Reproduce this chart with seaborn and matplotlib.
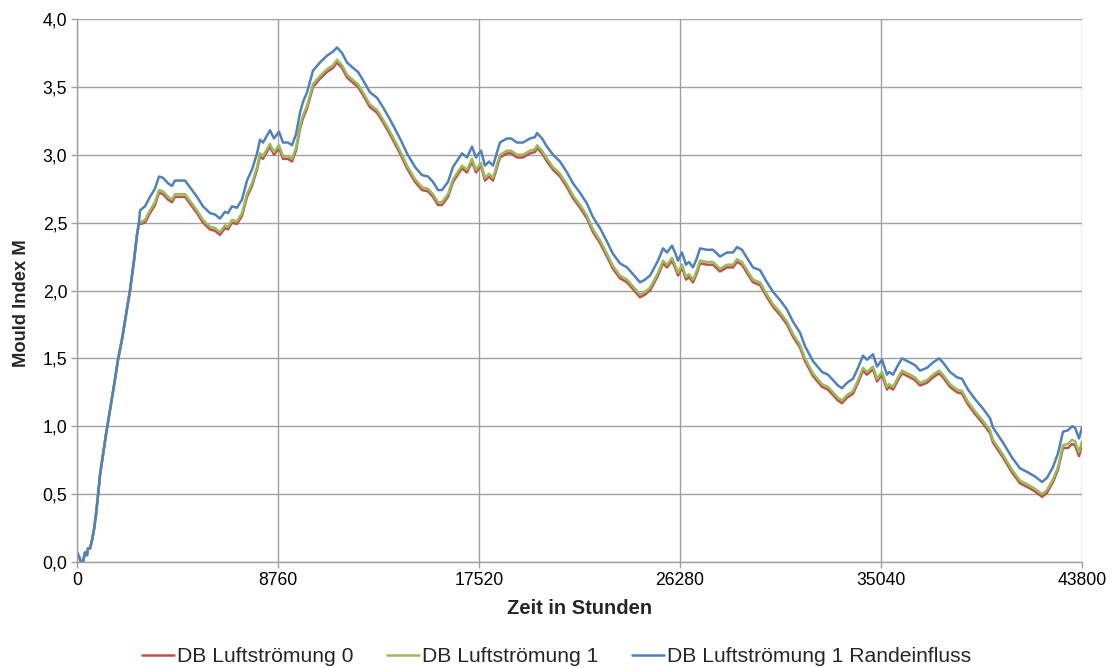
import matplotlib
matplotlib.use("Agg")
import matplotlib.pyplot as plt
import matplotlib.ticker as mticker
import seaborn as sns
import pandas as pd

hours = [0, 87, 174, 261, 349, 436, 479, 567, 654, 741, 828, 915, 1002, 1133, 1264, 1438, 1613, 1787,
         1961, 2136, 2310, 2484, 2615, 2702, 2746, 2964, 3181, 3399, 3574, 3748, 3966, 4140, 4271, 4489,
         4707, 4925, 5230, 5491, 5796, 6014, 6232, 6450, 6581, 6755, 6973, 7191, 7409, 7627, 7845, 7975,
         8106, 8411, 8586, 8804, 8978, 9196, 9370, 9544, 9719, 9850, 10024, 10285, 10590, 10896, 11157,
         11331, 11549, 11767, 12029, 12247, 12464, 12770, 13075, 13336, 13641, 14077, 14382, 14731, 15036,
         15297, 15515, 15733, 15907, 16169, 16387, 16779, 16997, 17215, 17389, 17607, 17781, 17956, 18130,
         18435, 18740, 18915, 19176, 19438, 19743, 19961, 20048, 20266, 20484, 20745, 21050, 21355, 21617,
         21922, 22227, 22488, 22793, 23098, 23360, 23665, 23970, 24232, 24537, 24755, 24972, 25103, 25321,
         25539, 25713, 25931, 26062, 26193, 26367, 26541, 26672, 26847, 27021, 27152, 27457, 27718, 28023,
         28328, 28590, 28764, 28982, 29200, 29461, 29767, 30072, 30333, 30638, 30943, 31205, 31510, 31728,
         32076, 32469, 32730, 32948, 33166, 33340, 33558, 33820, 34038, 34255, 34430, 34691, 34866, 35084,
         35301, 35389, 35563, 35781, 35955, 36304, 36522, 36740, 37045, 37306, 37569, 37742, 38047, 38353,
         38570, 38832, 39137, 39485, 39790, 39921, 40357, 40749, 41098, 41446, 41751, 42057, 42275, 42536,
         42754, 42972, 43189, 43364, 43495, 43669, 43800]

blue = [0.07, 0.04, 0.00, 0.00, 0.07, 0.05, 0.10, 0.10, 0.16, 0.24, 0.35, 0.49, 0.64, 0.79, 0.94, 1.12, 1.30, 1.49,
        1.64, 1.82, 2.00, 2.22, 2.41, 2.50, 2.59, 2.62, 2.69, 2.75, 2.84, 2.83, 2.79, 2.77, 2.81, 2.81,
        2.81, 2.76, 2.69, 2.62, 2.57, 2.56, 2.53, 2.58, 2.57, 2.62, 2.61, 2.67, 2.81, 2.89, 3.01, 3.11,
        3.09, 3.18, 3.12, 3.17, 3.09, 3.09, 3.07, 3.15, 3.31, 3.39, 3.46, 3.62, 3.68, 3.73, 3.76,
        3.79, 3.75, 3.68, 3.64, 3.61, 3.55, 3.46, 3.42, 3.35, 3.26, 3.12, 3.01, 2.91, 2.85,
        2.84, 2.80, 2.74, 2.74, 2.80, 2.91, 3.01, 2.98, 3.06, 2.98, 3.03, 2.92, 2.95, 2.92,
        3.09, 3.12, 3.12, 3.09, 3.09, 3.12, 3.13, 3.16, 3.12, 3.06, 3.00, 2.95, 2.87, 2.79,
        2.72, 2.64, 2.54, 2.46, 2.36, 2.27, 2.20, 2.17, 2.12, 2.06, 2.08, 2.11, 2.15, 2.22,
        2.31, 2.28, 2.33, 2.28, 2.22, 2.28, 2.19, 2.21, 2.17, 2.24, 2.31, 2.30, 2.30, 2.25,
        2.28, 2.28, 2.32, 2.30, 2.24, 2.17, 2.15, 2.06, 1.99, 1.93, 1.86, 1.77, 1.69, 1.59,
        1.48, 1.40, 1.38, 1.34, 1.30, 1.28, 1.32, 1.35, 1.43, 1.52, 1.49, 1.53, 1.44, 1.49,
        1.38, 1.40, 1.38, 1.45, 1.50, 1.47, 1.45, 1.41, 1.43, 1.47, 1.50, 1.47, 1.40, 1.36,
        1.35, 1.27, 1.20, 1.13, 1.06, 0.99, 0.88, 0.77, 0.69, 0.66, 0.63, 0.59, 0.62, 0.70,
        0.80, 0.96, 0.97, 1.00, 0.99, 0.91, 0.99]

green = [0.07, 0.04, 0.00, 0.00, 0.07, 0.05, 0.10, 0.10, 0.16, 0.24, 0.35, 0.49, 0.64, 0.79, 0.94, 1.12, 1.30, 1.49,
         1.64, 1.82, 2.00, 2.22, 2.41, 2.50, 2.50, 2.52, 2.59, 2.65, 2.74, 2.73, 2.69, 2.67, 2.71, 2.71,
         2.71, 2.66, 2.59, 2.52, 2.47, 2.46, 2.43, 2.48, 2.47, 2.52, 2.51, 2.57, 2.71, 2.79, 2.91, 3.01,
         2.99, 3.08, 3.02, 3.07, 2.99, 2.99, 2.97, 3.05, 3.21, 3.29, 3.36, 3.52, 3.58, 3.63, 3.66,
         3.70, 3.66, 3.59, 3.55, 3.52, 3.46, 3.37, 3.33, 3.26, 3.17, 3.03, 2.92, 2.82, 2.76,
         2.75, 2.71, 2.65, 2.65, 2.71, 2.82, 2.92, 2.89, 2.97, 2.89, 2.94, 2.83, 2.86, 2.83,
         3.00, 3.03, 3.03, 3.00, 3.00, 3.03, 3.04, 3.07, 3.03, 2.97, 2.91, 2.86, 2.78, 2.70,
         2.63, 2.55, 2.45, 2.37, 2.27, 2.18, 2.11, 2.08, 2.03, 1.97, 1.99, 2.02, 2.06, 2.13,
         2.22, 2.19, 2.24, 2.19, 2.13, 2.19, 2.10, 2.12, 2.08, 2.15, 2.22, 2.21, 2.21, 2.16,
         2.19, 2.19, 2.23, 2.21, 2.15, 2.08, 2.06, 1.97, 1.90, 1.84, 1.77, 1.68, 1.60, 1.50,
         1.39, 1.31, 1.29, 1.25, 1.21, 1.19, 1.23, 1.26, 1.34, 1.43, 1.40, 1.44, 1.35, 1.40,
         1.29, 1.31, 1.29, 1.36, 1.41, 1.38, 1.36, 1.32, 1.34, 1.38, 1.41, 1.38, 1.31, 1.27,
         1.26, 1.18, 1.11, 1.04, 0.97, 0.90, 0.79, 0.68, 0.60, 0.57, 0.54, 0.50, 0.53, 0.61,
         0.70, 0.86, 0.87, 0.90, 0.89, 0.81, 0.89]

red = [0.07, 0.04, 0.00, 0.00, 0.07, 0.05, 0.10, 0.10, 0.16, 0.24, 0.35, 0.49, 0.64, 0.79, 0.94, 1.12, 1.30, 1.49,
       1.64, 1.82, 2.00, 2.22, 2.41, 2.50, 2.49, 2.50, 2.57, 2.63, 2.72, 2.71, 2.67, 2.65, 2.69, 2.69,
       2.69, 2.64, 2.57, 2.50, 2.45, 2.44, 2.41, 2.46, 2.45, 2.50, 2.49, 2.55, 2.69, 2.77, 2.89, 2.99,
       2.97, 3.06, 3.00, 3.05, 2.97, 2.97, 2.95, 3.03, 3.19, 3.27, 3.34, 3.50, 3.56, 3.61, 3.64,
       3.68, 3.64, 3.57, 3.53, 3.50, 3.44, 3.35, 3.31, 3.24, 3.15, 3.01, 2.90, 2.80, 2.74,
       2.73, 2.69, 2.63, 2.63, 2.69, 2.80, 2.90, 2.87, 2.95, 2.87, 2.92, 2.81, 2.84, 2.81,
       2.98, 3.01, 3.01, 2.98, 2.98, 3.01, 3.02, 3.05, 3.01, 2.95, 2.89, 2.84, 2.76, 2.68,
       2.61, 2.53, 2.43, 2.35, 2.25, 2.16, 2.09, 2.06, 2.01, 1.95, 1.97, 2.00, 2.04, 2.11,
       2.20, 2.17, 2.22, 2.17, 2.11, 2.17, 2.08, 2.10, 2.06, 2.13, 2.20, 2.19, 2.19, 2.14,
       2.17, 2.17, 2.21, 2.19, 2.13, 2.06, 2.04, 1.95, 1.88, 1.82, 1.75, 1.66, 1.58, 1.48,
       1.37, 1.29, 1.27, 1.23, 1.19, 1.17, 1.21, 1.24, 1.32, 1.41, 1.38, 1.42, 1.33, 1.38,
       1.27, 1.29, 1.27, 1.34, 1.39, 1.36, 1.34, 1.30, 1.32, 1.36, 1.39, 1.36, 1.29, 1.25,
       1.24, 1.16, 1.09, 1.02, 0.95, 0.88, 0.77, 0.66, 0.58, 0.55, 0.52, 0.48, 0.51, 0.59,
       0.68, 0.84, 0.84, 0.87, 0.86, 0.78, 0.86]

series_names = ["DB Luftströmung 0", "DB Luftströmung 1", "DB Luftströmung 1 Randeinfluss"]
series_colors = ["#C0504D", "#9BBB59", "#4F81BD"]
x_ticks = [0, 8760, 17520, 26280, 35040, 43800]
y_ticks = [0.0, 0.5, 1.0, 1.5, 2.0, 2.5, 3.0, 3.5, 4.0]

frames = []
for name, vals in zip(series_names, [red, green, blue]):
    frames.append(pd.DataFrame({"Zeit": hours, "M": vals, "Serie": name}))
df = pd.concat(frames, ignore_index=True)

sns.set_theme(style="whitegrid")
plt.rcParams["font.family"] = ["Liberation Sans", "DejaVu Sans"]

fig = plt.figure(figsize=(11.13, 6.68), dpi=100)
ax = fig.add_axes([77 / 1113, 1 - 562 / 668, 1005 / 1113, 543 / 668])

sns.lineplot(data=df, x="Zeit", y="M", hue="Serie", hue_order=series_names,
             palette=series_colors, estimator=None, sort=False, linewidth=1.8, ax=ax)

ax.set_xlim(0, 43800)
ax.set_ylim(0, 4.0)
ax.set_xticks(x_ticks)
ax.set_yticks(y_ticks)
ax.yaxis.set_major_formatter(mticker.FuncFormatter(lambda v, p: f"{v:.1f}".replace(".", ",")))
ax.tick_params(axis="both", labelsize=12.7, colors="#000000", length=4, width=1, direction="out",
               color="#A0A0A0", left=True, bottom=True, pad=3)
ax.grid(True, color="#A0A0A0", linewidth=1)
for s in ["top", "right"]:
    ax.spines[s].set_visible(False)
for s in ["left", "bottom"]:
    ax.spines[s].set_visible(True)
    ax.spines[s].set_color("#A0A0A0")
    ax.spines[s].set_linewidth(1)
ax.set_facecolor("white")

ax.set_xlabel("Zeit in Stunden", fontsize=14.5, fontweight="bold", va="center")
ax.xaxis.set_label_coords(0.5, (562 - 608) / 543)
ax.set_ylabel("Mould Index M", fontsize=13.2, fontweight="bold", va="center")
ax.yaxis.set_label_coords((22 - 77) / 1005, (562 - 303) / 543)

handles, labels = ax.get_legend_handles_labels()
ax.get_legend().remove()
fig.legend(handles, labels, loc="center", bbox_to_anchor=(0.5, 1 - 657 / 668), ncol=3, frameon=False,
           fontsize=15.2, handlelength=1.5, handletextpad=0.15, columnspacing=1.6,
           borderaxespad=0, borderpad=0)

fig.savefig("out.png", dpi=100)
